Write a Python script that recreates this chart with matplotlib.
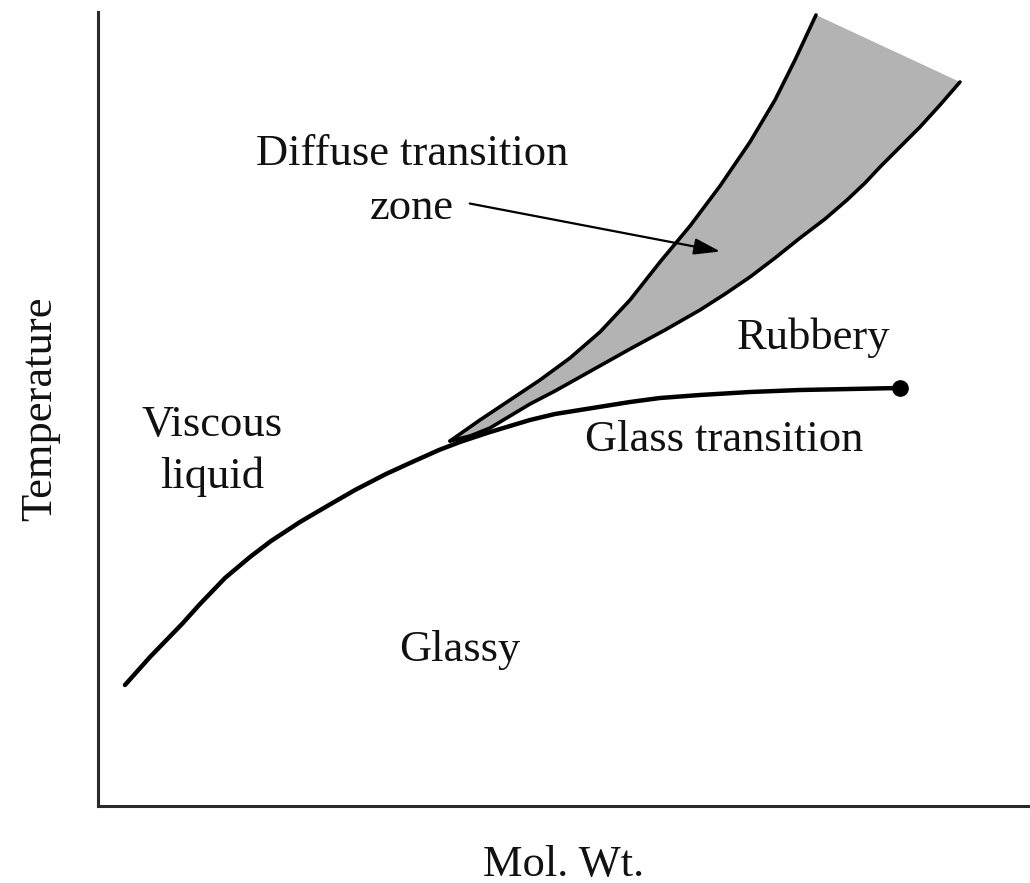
import matplotlib
matplotlib.use("Agg")
import matplotlib.pyplot as plt

plt.rcParams['font.family'] = ['Liberation Serif', 'DejaVu Serif']

# Schematic values (arbitrary units, no scale on the axes)
# Glass transition curve: Tg vs molecular weight
tg_molwt = [27, 52, 84, 102, 127, 152, 173, 202, 231, 257, 288, 312, 341, 362,
            389, 412, 432, 457, 482, 507, 532, 562, 602, 652, 702, 752, 802]
tg_temp = [121, 149, 182, 202, 228, 249, 265, 284, 301, 316, 332, 343, 356, 364,
           373, 380, 386, 392, 396, 400, 404, 408, 411, 414, 416, 417, 418]

# Diffuse transition zone, upper boundary
upper_molwt = [352, 382, 412, 442, 472, 502, 532, 562, 592, 622, 652, 677, 697, 718]
upper_temp = [365, 386, 406, 426, 448, 474, 506, 544, 580, 620, 664, 706, 746, 791]

# Diffuse transition zone, lower boundary
lower_molwt = [352, 372, 392, 412, 432, 457, 482, 507, 532, 567, 602, 627, 652,
               677, 702, 727, 749, 767, 782, 802, 822, 842, 862]
lower_temp = [365, 370, 378, 390, 402, 415, 429, 443, 457, 476, 496, 512, 529,
              548, 568, 587, 606, 623, 639, 659, 679, 701, 724]

fig = plt.figure(figsize=(10.30, 8.83), dpi=100)
ax = fig.add_axes([98 / 1030, 77 / 883, 932 / 1030, 794 / 883])
ax.set_xlim(0, 932)
ax.set_ylim(0, 794)

# gray zone between the two boundaries
zone_x = upper_molwt + lower_molwt[::-1]
zone_y = upper_temp + lower_temp[::-1]
ax.fill(zone_x, zone_y, color='#b3b3b3', lw=0, zorder=1)
ax.plot(upper_molwt, upper_temp, color='black', lw=2.6, solid_capstyle='round',
        solid_joinstyle='round', zorder=2)
ax.plot(lower_molwt, lower_temp, color='black', lw=2.6, solid_capstyle='round',
        solid_joinstyle='round', zorder=2)

# glass transition curve with end dot
ax.plot(tg_molwt, tg_temp, color='black', lw=3.2, solid_capstyle='round',
        solid_joinstyle='round', zorder=3)
ax.plot(tg_molwt[-1], tg_temp[-1], 'o', color='black', ms=11, zorder=4)

fs = 32
tc = '#111111'
ax.text(314, 625, 'Diffuse transition\nzone', ha='center', va='center',
        multialignment='center', fontsize=fs, color=tc, linespacing=1.42)
ax.annotate('', xy=(625, 554), xytext=(369, 603),
            arrowprops=dict(arrowstyle='-|>,head_length=0.8,head_width=0.25',
                            color='black', lw=1.6, mutation_scale=20))
ax.text(114, 355, 'Viscous\nliquid', ha='center', va='center',
        multialignment='center', fontsize=fs, color=tc, linespacing=1.38)
ax.text(362, 156, 'Glassy', ha='center', va='center', fontsize=fs, color=tc)
ax.text(715, 468, 'Rubbery', ha='center', va='center', fontsize=fs, color=tc)
ax.text(626, 366, 'Glass transition', ha='center', va='center', fontsize=fs, color=tc)

ax.set_xlabel('Mol. Wt.', fontsize=fs, color=tc, labelpad=28)
ax.set_ylabel('Temperature', fontsize=fs, color=tc, labelpad=27)

for side in ['top', 'right']:
    ax.spines[side].set_visible(False)
for side in ['left', 'bottom']:
    ax.spines[side].set_linewidth(2.2)
    ax.spines[side].set_color('#2a2a2a')
ax.set_xticks([])
ax.set_yticks([])

fig.savefig('out.png', dpi=100)
